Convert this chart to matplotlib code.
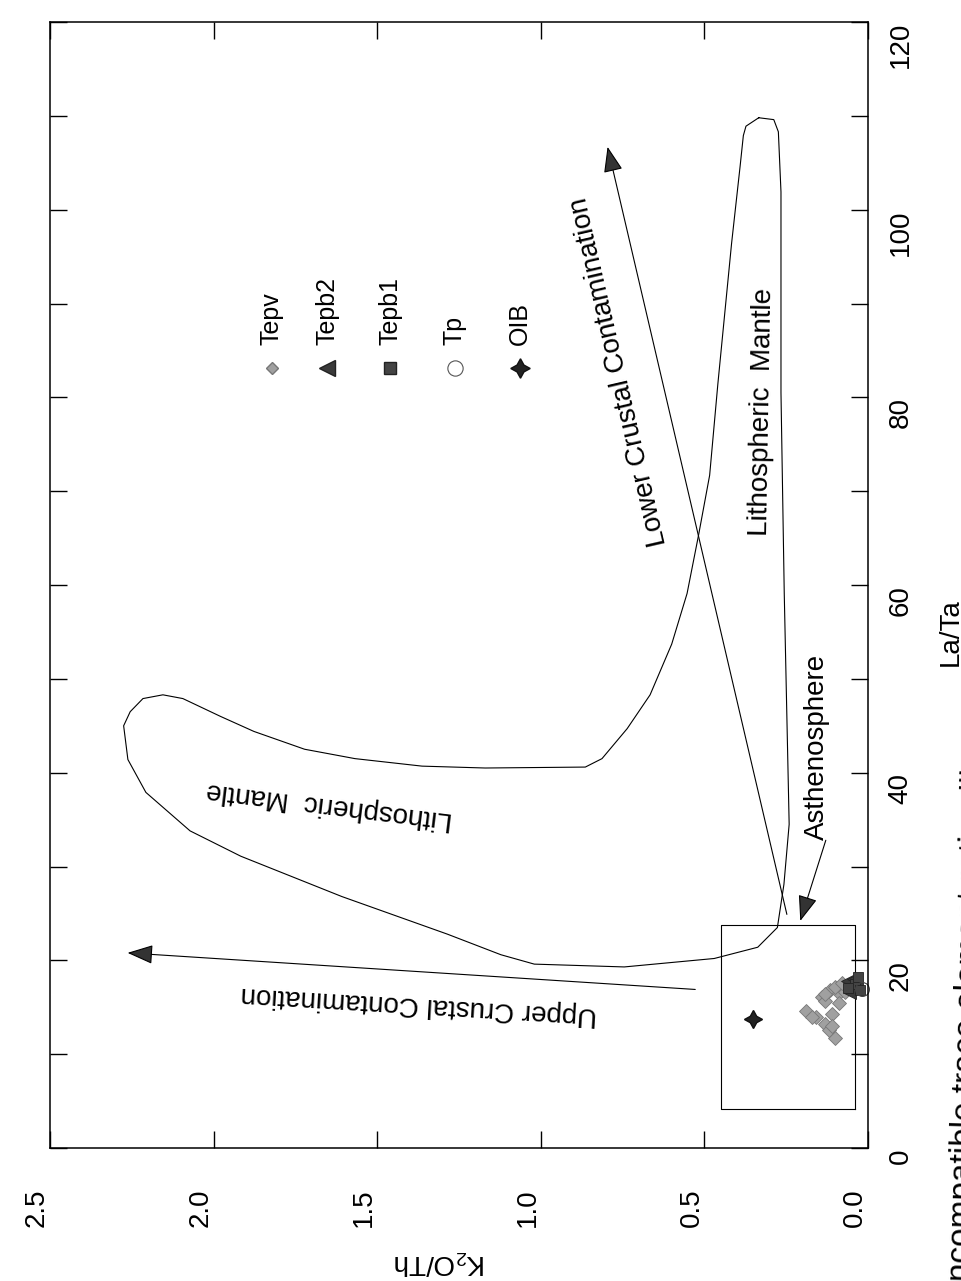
import matplotlib
matplotlib.use('Agg')
import matplotlib.pyplot as plt

plt.rcParams['font.family'] = ['Liberation Sans', 'DejaVu Sans']
plt.rcParams['mathtext.default'] = 'regular'

# page is scanned sideways: La/Ta runs up the page, K2O/Th runs right-to-left

# samples (La/Ta, K2O/Th)
tepv_lata = [16.1, 16.8, 14.0, 14.3, 13.2, 11.7, 15.7, 16.5, 12.6, 14.6, 16.4, 16.6, 15.5, 13.0, 14.0, 17.2, 17.6]
tepv_k2oth = [0.14, 0.115, 0.16, 0.11, 0.13, 0.10, 0.13, 0.09, 0.12, 0.19, 0.13, 0.07, 0.09, 0.11, 0.17, 0.10, 0.08]
tepb2_lata = [17.6, 17.1, 17.8, 16.5, 18.0]
tepb2_k2oth = [0.05, 0.035, 0.065, 0.055, 0.045]
tepb1_lata = [17.5, 16.8, 17.1, 18.2]
tepb1_k2oth = [0.04, 0.025, 0.06, 0.03]
tp_lata = [16.9]
tp_k2oth = [0.018]
oib_lata = [13.8]
oib_k2oth = [0.35]

# lithospheric mantle field (closed outline)
mantle_lata = [109.8, 109.6, 108.3, 101.9, 91.2, 80.5, 59.1, 34.5, 28.1, 23.5, 21.4, 20.2, 19.3, 19.6,
               20.6, 22.8, 26.8, 31.1, 33.8, 37.9, 41.4, 45.0, 46.5, 47.9, 48.3, 47.9, 46.0, 44.4,
               42.5, 41.5, 40.7, 40.5, 40.6, 41.5, 44.7, 48.3, 53.7, 59.1, 65.3, 71.7, 81.4, 96.4,
               104.6, 107.9, 108.9, 109.8]
mantle_k2oth = [0.334, 0.288, 0.274, 0.266, 0.266, 0.266, 0.256, 0.241, 0.257, 0.277, 0.337, 0.47, 0.745, 1.02,
                1.122, 1.286, 1.608, 1.917, 2.072, 2.207, 2.262, 2.275, 2.255, 2.216, 2.155, 2.094, 1.979, 1.877,
                1.722, 1.568, 1.363, 1.170, 0.864, 0.813, 0.736, 0.666, 0.600, 0.553, 0.518, 0.484, 0.459, 0.417,
                0.391, 0.381, 0.373, 0.334]

# asthenosphere box
asth_lata = [4.2, 4.2, 23.8, 23.8, 4.2]
asth_k2oth = [0.04, 0.45, 0.45, 0.04, 0.04]

# vectors: [start, tip]
upper_lata = [16.9, 20.8]
upper_k2oth = [0.528, 2.263]
lower_lata = [24.9, 106.7]
lower_k2oth = [0.248, 0.796]
asth_arrow_lata = [32.8, 24.2]
asth_arrow_k2oth = [0.129, 0.207]

k2oth_ticks = [0.0, 0.5, 1.0, 1.5, 2.0, 2.5]
lata_ticks = [0, 20, 40, 60, 80, 100, 120]
lata_minor = [10, 30, 50, 70, 90, 110]

fig = plt.figure(figsize=(9.62, 12.81), dpi=100)
ax = fig.add_axes([0.052, 0.1038, 0.8503, 0.879])

line_kw = dict(color='black', lw=0.8)
ax.plot(mantle_k2oth, mantle_lata, **line_kw)
ax.plot(asth_k2oth, asth_lata, **line_kw)

head = '-|>,head_length=0.8,head_width=0.3'
for ks, ls in [(upper_k2oth, upper_lata), (lower_k2oth, lower_lata), (asth_arrow_k2oth, asth_arrow_lata)]:
    ax.annotate('', xy=(ks[1], ls[1]), xytext=(ks[0], ls[0]),
                arrowprops=dict(arrowstyle=head, mutation_scale=20, lw=0.8,
                                color='black', fc='#333333', shrinkA=0, shrinkB=0))

# samples
ax.plot(tepv_k2oth, tepv_lata, 'D', ms=7, mfc='#a0a0a0', mec='#777777', mew=0.6, ls='none')
ax.plot(tepb2_k2oth, tepb2_lata, '<', ms=9, mfc='#3a3a3a', mec='#222222', mew=0.6, ls='none')
ax.plot(tepb1_k2oth, tepb1_lata, 's', ms=7, mfc='#444444', mec='#222222', mew=0.6, ls='none')
ax.plot(tp_k2oth, tp_lata, 'o', ms=10, mfc='none', mec='#444444', mew=0.8, ls='none', clip_on=False)
ax.plot(oib_k2oth, oib_lata, marker=(4, 1, 0), ms=13, mfc='#222222', mec='#111111', ls='none')

# field labels
txt = dict(fontsize=20, rotation_mode='anchor', ha='center', va='center')
ax.text(1.371, 15.3, 'Upper Crustal Contamination', rotation=176.6, **txt)
ax.text(1.647, 36.6, 'Lithospheric  Mantle', rotation=173, **txt)
ax.text(0.760, 82.7, 'Lower Crustal Contamination', rotation=103, **txt)
ax.text(0.325, 78.5, 'Lithospheric  Mantle', rotation=89, **txt)
ax.text(0.156, 42.7, 'Asthenosphere', rotation=90, **txt)

# key
legend_items = [('Tepv', dict(marker='D', ms=6, mfc='#a0a0a0', mec='#777777')),
                ('Tepb2', dict(marker='<', ms=11, mfc='#3a3a3a', mec='#222222')),
                ('Tepb1', dict(marker='s', ms=8, mfc='#444444', mec='#222222')),
                ('Tp', dict(marker='o', ms=11, mfc='none', mec='#555555', mew=0.8)),
                ('OIB', dict(marker=(4, 1, 0), ms=14, mfc='#222222', mec='#111111'))]
key_x = [0.271, 0.339, 0.416, 0.495, 0.575]
for (name, mk), kx in zip(legend_items, key_x):
    ax.plot([kx], [0.693], transform=ax.transAxes, ls='none', **mk)
    ax.text(kx, 0.713, name, transform=ax.transAxes, rotation=90, fontsize=18,
            ha='center', va='bottom')

# axes
ax.set_xlim(2.5, 0)
ax.set_ylim(0, 120)
ax.set_xticks(k2oth_ticks)
ax.set_xticklabels(['%.1f' % v for v in k2oth_ticks])
ax.set_yticks(lata_ticks)
ax.set_yticks(lata_minor, minor=True)
ax.yaxis.tick_right()
ax.tick_params(axis='x', which='both', top=True, bottom=True, direction='in', length=12,
               width=1, labelsize=20, labelrotation=90, pad=29)
ax.tick_params(axis='y', which='both', left=True, right=True, direction='in', length=12,
               width=1, labelsize=20, labelrotation=90, pad=14)
for lab in ax.get_xticklabels():
    lab.set_horizontalalignment('right')
for lab in ax.get_yticklabels():
    lab.set_verticalalignment('top')
for sp in ax.spines.values():
    sp.set_linewidth(1.1)

ax.set_xlabel('K$_2$O/Th', fontsize=20, rotation=180)
ax.xaxis.set_label_coords(0.477, -0.089)
ax.yaxis.set_label_position('right')
ax.set_ylabel('La/Ta', fontsize=20, rotation=90)
ax.yaxis.set_label_coords(1.0856, 0.458)

# figure caption, running off the scanned page edge
fig.text(0.9823, -0.007, 'Incompatible trace element ratios ill', rotation=88.3,
         rotation_mode='anchor', fontsize=24, ha='left', va='top')

fig.savefig('out.png', dpi=100)
